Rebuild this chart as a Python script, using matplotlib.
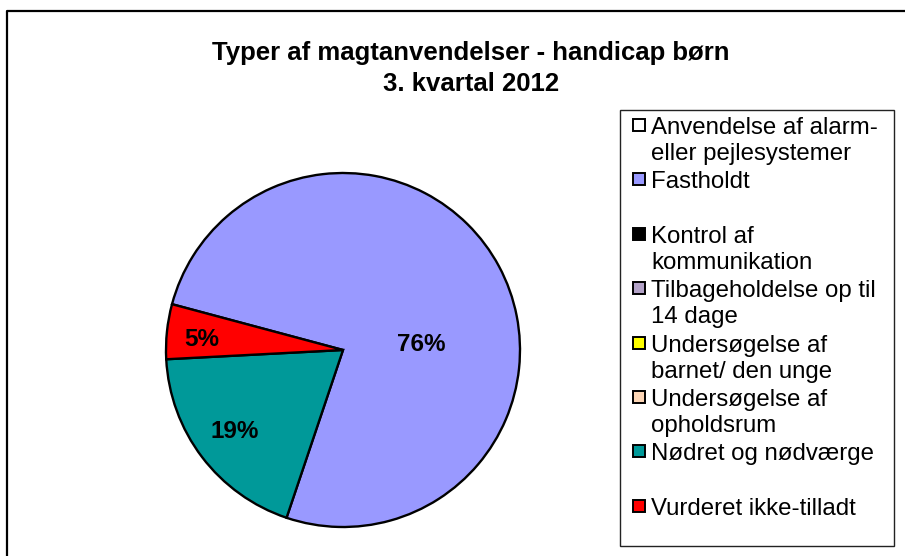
import matplotlib
matplotlib.use("Agg")
import matplotlib.pyplot as plt
from matplotlib.patches import Rectangle
from matplotlib.lines import Line2D

plt.rcParams["font.family"] = ["Liberation Sans", "DejaVu Sans"]

# data
categories = [
    "Anvendelse af alarm-\neller pejlesystemer",
    "Fastholdt",
    "Kontrol af\nkommunikation",
    "Tilbageholdelse op til\n14 dage",
    "Undersøgelse af\nbarnet/ den unge",
    "Undersøgelse af\nopholdsrum",
    "Nødret og nødværge",
    "Vurderet ikke-tilladt",
]
values = [0, 76, 0, 0, 0, 0, 19, 5]
colors = ["#FFFFFF", "#9999FF", "#000000", "#B3A2C7",
          "#FFFF00", "#FCD5B5", "#009999", "#FF0000"]
title = "Typer af magtanvendelser - handicap børn\n3. kvartal 2012"

W, H = 905, 556


def fx(px):
    return px / W


def fy(py):
    return 1 - py / H


fig = plt.figure(figsize=(W / 100, H / 100), dpi=100)

# chart frame (only left/top visible)
fig.add_artist(Line2D([fx(7), fx(7), fx(W + 5)], [fy(H + 5), fy(11), fy(11)],
                      color="black", lw=1.6, transform=fig.transFigure))

fig.text(fx(471), fy(68.5), title, ha="center", va="center", fontsize=18.5,
         fontweight="bold", linespacing=1.36)

# pie
cx, cy, r = 343, 350, 177
pad = 183
ax = fig.add_axes([fx(cx - pad), fy(cy + pad), (2 * pad) / W, (2 * pad) / H])
nz = [i for i, v in enumerate(values) if v > 0]
wedges, _ = ax.pie([values[i] for i in nz], colors=[colors[i] for i in nz],
                   startangle=165, counterclock=False, radius=1.0,
                   wedgeprops=dict(edgecolor="black", linewidth=1.7))
ax.set_xlim(-pad / r, pad / r)
ax.set_ylim(-pad / r, pad / r)
ax.axis("off")

label_pos = {1: (0.44, 0.03), 6: (-0.61, -0.46), 7: (-0.80, 0.06)}
for i in nz:
    x, y = label_pos[i]
    ax.text(x, y, f"{values[i]:.0f}%", ha="center", va="center",
            fontsize=17.5, fontweight="bold")

# legend box
fig.add_artist(Rectangle((fx(620), fy(546)), fx(894) - fx(620), fy(110) - fy(546),
                         transform=fig.transFigure, facecolor="white",
                         edgecolor="#222222", lw=1.0))
base0, step, line_h = 134, 54.4, 26
for k, (lab, col) in enumerate(zip(categories, colors)):
    yb = base0 + k * step
    fig.add_artist(Rectangle((fx(633), fy(yb - 3)), 12 / W, 12 / H,
                             transform=fig.transFigure, facecolor=col,
                             edgecolor="black", lw=1.4))
    for j, line in enumerate(lab.split("\n")):
        fig.text(fx(651), fy(yb + j * line_h), line, ha="left", va="baseline",
                 fontsize=17.3)

fig.savefig("out.png", dpi=100)
